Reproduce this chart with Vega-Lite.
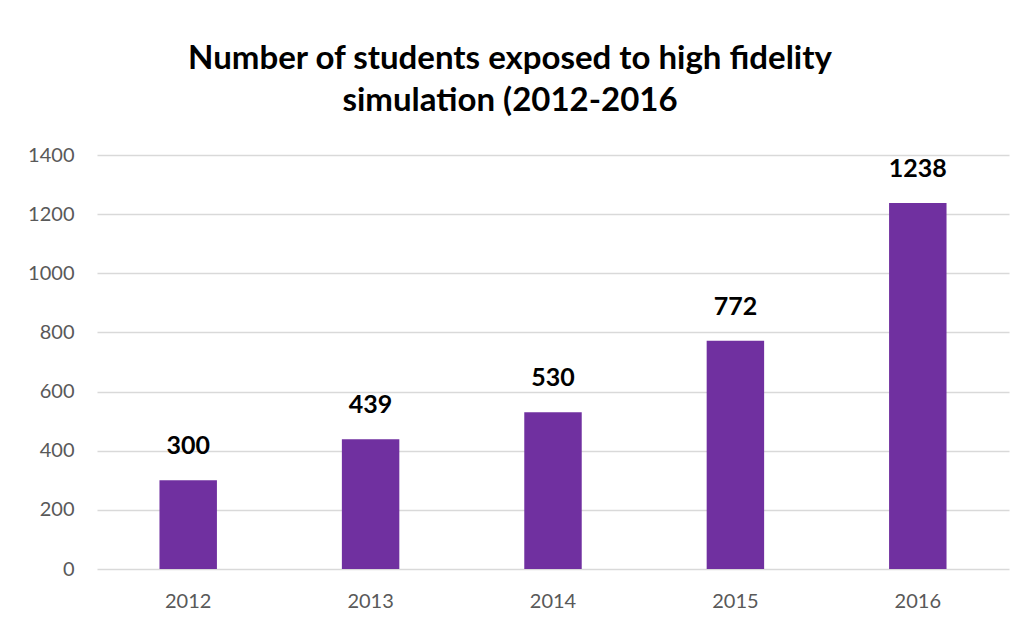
{
  "$schema": "https://vega.github.io/schema/vega-lite/v6.json",
  "width": 912,
  "height": 414,
  "autosize": "none",
  "padding": {"left": 97, "top": 155, "right": 23, "bottom": 54},
  "background": "white",
  "title": {
    "text": ["Number of students exposed to high fidelity", "simulation (2012-2016"],
    "font": "Lato",
    "fontSize": 33,
    "fontWeight": "bold",
    "color": "#000000",
    "anchor": "middle",
    "dx": -43,
    "offset": 27,
    "lineHeight": 42
  },
  "data": {
    "values": [
      {"year": "2012", "students": 300},
      {"year": "2013", "students": 439},
      {"year": "2014", "students": 530},
      {"year": "2015", "students": 772},
      {"year": "2016", "students": 1238}
    ]
  },
  "encoding": {
    "x": {
      "field": "year",
      "type": "nominal",
      "scale": {"paddingInner": 0.685, "paddingOuter": 0.3425},
      "axis": {
        "title": null,
        "labelAngle": 0,
        "labelFont": "Lato",
        "labelFontSize": 20,
        "labelColor": "#595959",
        "labelPadding": 22,
        "domain": false,
        "ticks": false
      }
    },
    "y": {
      "field": "students",
      "type": "quantitative",
      "scale": {"domain": [0, 1400]},
      "axis": {
        "title": null,
        "format": "d",
        "values": [0, 200, 400, 600, 800, 1000, 1200, 1400],
        "labelFont": "Lato",
        "labelFontSize": 20,
        "labelColor": "#595959",
        "labelPadding": 23,
        "domain": false,
        "ticks": false,
        "gridColor": "#d9d9d9",
        "gridWidth": 1.3
      }
    }
  },
  "layer": [
    {"mark": {"type": "bar", "color": "#7030A0"}},
    {
      "mark": {"type": "text", "font": "Lato", "fontSize": 25, "fontWeight": "bold", "color": "#000000", "baseline": "alphabetic", "dy": -26},
      "encoding": {"text": {"field": "students", "type": "quantitative"}}
    }
  ],
  "config": {"view": {"stroke": null}}
}
